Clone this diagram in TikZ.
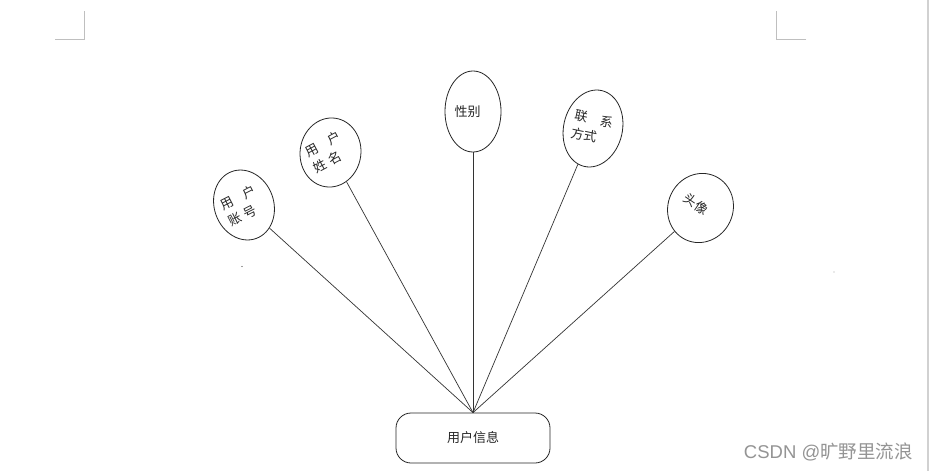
\documentclass[tikz,border=0pt]{standalone}
\usepackage{fontspec}
\newfontfamily\cjk{Noto Sans CJK SC}
\newfontfamily\latinwm{Liberation Sans}
\usetikzlibrary{shapes.geometric}
\begin{document}
\begin{tikzpicture}[x=1pt,y=-1pt,
  attr/.style={draw=black!85, ellipse, inner sep=0pt, line width=0.8pt},
  lbl/.style={font=\cjk\fontsize{13}{18}\selectfont, align=left, inner sep=0pt, text=black!85},
  link/.style={line width=0.7pt, draw=black!80},
  cornermark/.style={draw=black!25, line width=1pt},
  entity/.style={draw=black!85, rounded corners=15pt, line width=0.8pt, minimum width=154pt, minimum height=50pt, inner sep=0pt, font=\cjk\fontsize{13}{15}\selectfont, text=black!85}
]
\useasboundingbox (0,0) rectangle (929,471);
\fill[white] (0,0) rectangle (929,471);
% page corner marks and side bar
\draw[cornermark] (55,39) -- (84,39) -- (84,11);
\draw[cornermark] (806,39) -- (776,39) -- (776,11);
\fill[black!18] (926.5,0) rectangle (929,471);

% attribute ellipses
\node[attr, minimum width=59.4pt, minimum height=71.2pt, rotate=20] (e1) at (244,205) {};
\node[attr, minimum width=60.8pt, minimum height=69.2pt, rotate=-8] (e2) at (330.5,152.5) {};
\node[attr, minimum width=56pt, minimum height=81pt] (e3) at (473,111.5) {};
\node[attr, minimum width=58.8pt, minimum height=77.8pt, rotate=-13] (e4) at (593,128.5) {};
\node[attr, minimum width=65pt, minimum height=70pt, rotate=-25] (e5) at (700.5,208) {};

% labels
\node[lbl, rotate=27] (t1) at (242.2,205.9) {用\hspace{11.7pt}户\\账\hspace{3.5pt}号};
\node[lbl, rotate=28] (t2) at (326.9,152) {用\hspace{11.7pt}户\\姓\hspace{3.5pt}名};
\node[lbl] (t3) at (467.5,112) {性别};
\node[lbl, rotate=-12] (t4) at (592.1,127.7) {联\hspace{12.8pt}系\\方式};
\node[lbl, rotate=-34] (t5) at (696,204) {头像};

% entity
\node[entity] (box) at (473,438) {用户信息};

% connectors
\foreach \e in {e1,e2,e3,e4,e5}
  \draw[link] (box.north) -- (\e);

% specks
\fill[black!75] (242,266.5) circle (0.6);
\fill[black!35] (834,272) circle (0.6);

% watermark
\node[anchor=east, inner sep=0pt, font=\cjk\fontsize{18.5}{18.5}\selectfont, text=black!42] (wm) at (913,452) {{\latinwm CSDN @}旷野里流浪};
\end{tikzpicture}
\end{document}
